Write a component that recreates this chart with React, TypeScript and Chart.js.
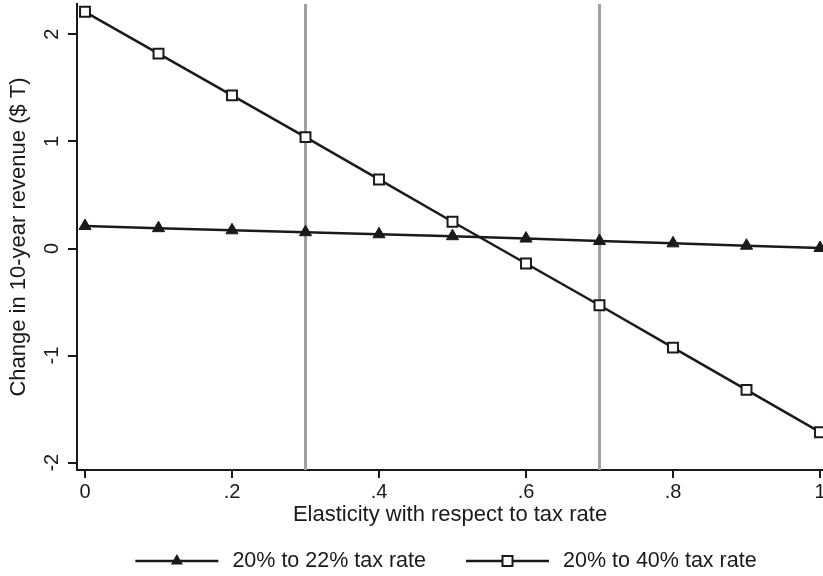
import React, { useEffect, useRef } from "react";
import { Chart, registerables } from "chart.js";

Chart.register(...registerables);

const xValues = [0, 0.1, 0.2, 0.3, 0.4, 0.5, 0.6, 0.7, 0.8, 0.9, 1];
const series22 = [0.21, 0.19, 0.17, 0.152, 0.133, 0.115, 0.093, 0.07, 0.048, 0.026, 0.005];
const series40 = [2.21, 1.82, 1.43, 1.04, 0.645, 0.25, -0.14, -0.53, -0.925, -1.32, -1.715];
const seriesLabels = ["20% to 22% tax rate", "20% to 40% tax rate"];
const xTickValues = [0, 0.2, 0.4, 0.6, 0.8, 1];
const xTickLabels = ["0", ".2", ".4", ".6", ".8", "1"];
const yTickValues = [-2, -1, 0, 1, 2];
const yTickLabels = ["-2", "-1", "0", "1", "2"];
const refLines = [0.3, 0.7];
const xTitle = "Elasticity with respect to tax rate";
const yTitle = "Change in 10-year revenue ($ T)";

const FONT = "'Liberation Sans', Arial, sans-serif";
const INK = "#1a1a1a";

const refLinePlugin = {
  id: "refLines",
  beforeDatasetsDraw(chart: any) {
    const { ctx, chartArea, scales } = chart;
    ctx.save();
    ctx.strokeStyle = "#a0a0a0";
    ctx.lineWidth = 3;
    refLines.forEach((v) => {
      const px = scales.x.getPixelForValue(v);
      ctx.beginPath();
      ctx.moveTo(px, chartArea.top);
      ctx.lineTo(px, chartArea.bottom);
      ctx.stroke();
    });
    ctx.restore();
  },
};

function drawMarker(ctx: CanvasRenderingContext2D, kind: string, x: number, y: number) {
  ctx.save();
  ctx.lineWidth = 2;
  ctx.strokeStyle = INK;
  if (kind === "triangle") {
    const r = 7;
    ctx.fillStyle = INK;
    ctx.beginPath();
    ctx.moveTo(x, y - r);
    ctx.lineTo(x + r * Math.cos(Math.PI / 6), y + r * 0.5);
    ctx.lineTo(x - r * Math.cos(Math.PI / 6), y + r * 0.5);
    ctx.closePath();
    ctx.fill();
  } else {
    const s = 5;
    ctx.fillStyle = "#ffffff";
    ctx.fillRect(x - s, y - s, 2 * s, 2 * s);
    ctx.strokeRect(x - s, y - s, 2 * s, 2 * s);
  }
  ctx.restore();
}

const legendPlugin = {
  id: "customLegend",
  afterDraw(chart: any) {
    const { ctx, chartArea } = chart;
    const sym = 83;
    const gapText = 14;
    const gapItem = 40;
    const y = 561;
    ctx.save();
    ctx.font = `21.5px ${FONT}`;
    const items = chart.data.datasets.map((d: any) => ({
      label: d.label,
      style: d.pointStyle,
      w: ctx.measureText(d.label).width,
    }));
    const total =
      items.reduce((a: number, it: any) => a + sym + gapText + it.w, 0) + gapItem * (items.length - 1);
    let x = (chartArea.left + chartArea.right) / 2 - 4 - total / 2;
    items.forEach((it: any) => {
      ctx.strokeStyle = INK;
      ctx.lineWidth = 2.5;
      ctx.beginPath();
      ctx.moveTo(x, y);
      ctx.lineTo(x + sym, y);
      ctx.stroke();
      drawMarker(ctx, it.style, x + sym / 2, y);
      ctx.fillStyle = INK;
      ctx.textBaseline = "middle";
      ctx.textAlign = "left";
      ctx.fillText(it.label, x + sym + gapText, y);
      x += sym + gapText + it.w + gapItem;
    });
    ctx.restore();
  },
};

export default function App() {
  const ref = useRef<HTMLCanvasElement | null>(null);
  useEffect(() => {
    if (!ref.current) return;
    Chart.defaults.font.family = FONT;
    const chart = new Chart(ref.current, {
      type: "line",
      data: {
        datasets: [
          {
            label: seriesLabels[0],
            data: xValues.map((x, i) => ({ x, y: series22[i] })),
            borderColor: INK,
            borderWidth: 2.5,
            pointStyle: "triangle",
            pointRadius: 7,
            pointBackgroundColor: INK,
            pointBorderColor: INK,
            pointBorderWidth: 1,
            clip: false,
          } as any,
          {
            label: seriesLabels[1],
            data: xValues.map((x, i) => ({ x, y: series40[i] })),
            borderColor: INK,
            borderWidth: 2.5,
            pointStyle: "rect",
            pointRadius: 7,
            pointBackgroundColor: "#ffffff",
            pointBorderColor: INK,
            pointBorderWidth: 2,
            clip: false,
          } as any,
        ],
      },
      options: {
        responsive: false,
        animation: false,
        layout: { autoPadding: false, padding: { top: 4, right: 0, bottom: 0, left: 0 } },
        plugins: { legend: { display: false }, tooltip: { enabled: false } },
        elements: { line: { tension: 0 } },
        scales: {
          x: {
            type: "linear",
            min: -8 / 735,
            max: 738 / 735,
            afterBuildTicks: (scale: any) => {
              scale.ticks = xTickValues.map((v) => ({ value: v }));
            },
            afterFit: (scale: any) => {
              scale.height = 106;
              scale.paddingLeft = 0;
              scale.paddingRight = 0;
            },
            ticks: {
              autoSkip: false,
              maxRotation: 0,
              minRotation: 0,
              padding: 2,
              color: INK,
              font: { size: 20, family: FONT },
              callback: (_v: any, i: number) => xTickLabels[i],
            },
            grid: {
              display: true,
              drawOnChartArea: false,
              drawTicks: true,
              tickLength: 8,
              color: INK,
              lineWidth: 2,
            },
            border: { display: true, color: INK, width: 2 },
            title: {
              display: true,
              text: xTitle,
              color: INK,
              font: { size: 22, family: FONT },
              padding: { top: 0, bottom: 48 },
            },
          },
          y: {
            type: "linear",
            min: -2.068,
            max: 2.283,
            afterBuildTicks: (scale: any) => {
              scale.ticks = yTickValues.map((v) => ({ value: v }));
            },
            afterFit: (scale: any) => {
              scale.width = 77;
              scale.paddingTop = 0;
              scale.paddingBottom = 0;
            },
            ticks: {
              autoSkip: false,
              minRotation: 90,
              maxRotation: 90,
              crossAlign: "center",
              padding: 7,
              color: INK,
              font: { size: 20, family: FONT },
              callback: (_v: any, i: number) => yTickLabels[i],
            },
            grid: {
              display: true,
              drawOnChartArea: false,
              drawTicks: true,
              tickLength: 9,
              color: INK,
              lineWidth: 2,
            },
            border: { display: true, color: INK, width: 2 },
            title: {
              display: true,
              text: yTitle,
              color: INK,
              font: { size: 22, family: FONT },
              padding: { top: 6, bottom: 0 },
            },
          },
        },
      },
      plugins: [refLinePlugin, legendPlugin],
    } as any);
    return () => chart.destroy();
  }, []);
  return (
    <div style={{ position: "fixed", left: 0, top: 0, width: 823, height: 576, background: "#fff" }}>
      <canvas ref={ref} width={823} height={576} />
    </div>
  );
}
